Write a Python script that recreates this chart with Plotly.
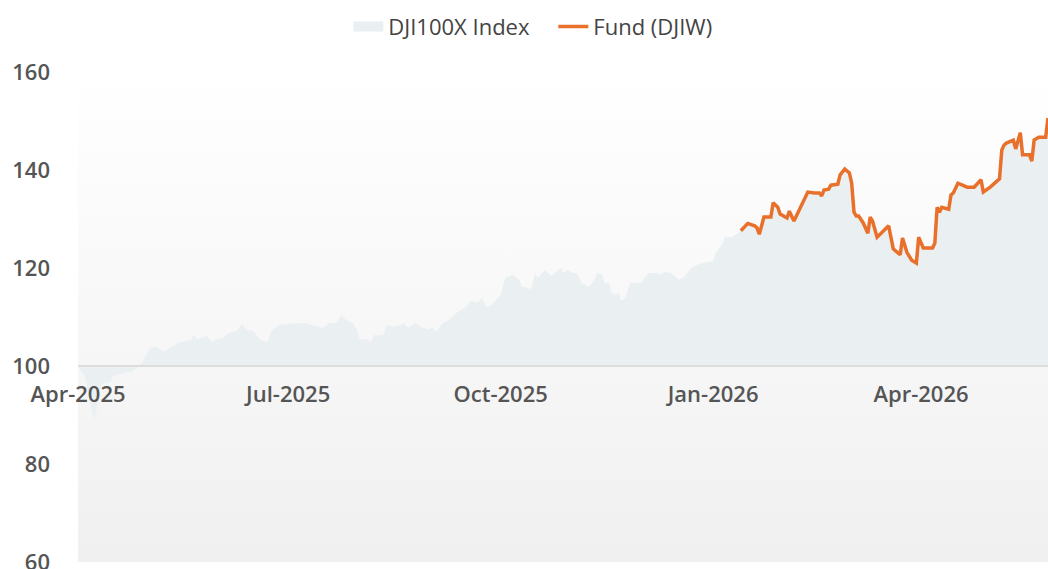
import plotly.graph_objects as go

# ---------------- data ----------------
index_dates = [
    "2025-04-01", "2025-04-04", "2025-04-06", "2025-04-08", "2025-04-09", "2025-04-10",
    "2025-04-12", "2025-04-15", "2025-04-16", "2025-04-21", "2025-04-24", "2025-04-27",
    "2025-04-29", "2025-05-02", "2025-05-05", "2025-05-08", "2025-05-11", "2025-05-15",
    "2025-05-20", "2025-05-21", "2025-05-23", "2025-05-27", "2025-05-29", "2025-05-31",
    "2025-06-03", "2025-06-05", "2025-06-09", "2025-06-11", "2025-06-13", "2025-06-16",
    "2025-06-19", "2025-06-22", "2025-06-24", "2025-06-27", "2025-07-02", "2025-07-06",
    "2025-07-09", "2025-07-12", "2025-07-16", "2025-07-19", "2025-07-22", "2025-07-24",
    "2025-07-26", "2025-07-29", "2025-07-31", "2025-08-01", "2025-08-04", "2025-08-06",
    "2025-08-07", "2025-08-11", "2025-08-13", "2025-08-15", "2025-08-18", "2025-08-20",
    "2025-08-22", "2025-08-25", "2025-08-28", "2025-08-31", "2025-09-01", "2025-09-03",
    "2025-09-06", "2025-09-08", "2025-09-10", "2025-09-13", "2025-09-16", "2025-09-18",
    "2025-09-21", "2025-09-23", "2025-09-25", "2025-09-27", "2025-10-01", "2025-10-03",
    "2025-10-06", "2025-10-09", "2025-10-10", "2025-10-13", "2025-10-14", "2025-10-16",
    "2025-10-17", "2025-10-20", "2025-10-23", "2025-10-27", "2025-10-28", "2025-10-30",
    "2025-11-01", "2025-11-03", "2025-11-05", "2025-11-07", "2025-11-08", "2025-11-10",
    "2025-11-12", "2025-11-14", "2025-11-15", "2025-11-17", "2025-11-18", "2025-11-20",
    "2025-11-21", "2025-11-22", "2025-11-24", "2025-11-26", "2025-12-01", "2025-12-04",
    "2025-12-08", "2025-12-09", "2025-12-11", "2025-12-14", "2025-12-17", "2025-12-19",
    "2025-12-23", "2025-12-27", "2026-01-01", "2026-01-02", "2026-01-04", "2026-01-05",
    "2026-01-06", "2026-01-09", "2026-01-12",
    "2026-01-13", "2026-01-16", "2026-01-19", "2026-01-20", "2026-01-21", "2026-01-23",
    "2026-01-26", "2026-01-27", "2026-01-29", "2026-01-30", "2026-02-02", "2026-02-03",
    "2026-02-05", "2026-02-08", "2026-02-11", "2026-02-14", "2026-02-16", "2026-02-17",
    "2026-02-18", "2026-02-20", "2026-02-21", "2026-02-24", "2026-02-25", "2026-02-27",
    "2026-03-01", "2026-03-02", "2026-03-03", "2026-03-04", "2026-03-05", "2026-03-07",
    "2026-03-09", "2026-03-10", "2026-03-11", "2026-03-13", "2026-03-18", "2026-03-20",
    "2026-03-22", "2026-03-23", "2026-03-24", "2026-03-26", "2026-03-28", "2026-03-30",
    "2026-03-31", "2026-04-02", "2026-04-06", "2026-04-07", "2026-04-08", "2026-04-09",
    "2026-04-10", "2026-04-13", "2026-04-14", "2026-04-15", "2026-04-17", "2026-04-21",
    "2026-04-24", "2026-04-27", "2026-04-28", "2026-05-01", "2026-05-05", "2026-05-06",
    "2026-05-07", "2026-05-08", "2026-05-11", "2026-05-12", "2026-05-14", "2026-05-15",
    "2026-05-18", "2026-05-19", "2026-05-20", "2026-05-22", "2026-05-25", "2026-05-26",
]
index_values = [
    100.0, 97.8, 93.0, 89.0, 91.0, 95.0,
    96.5, 96.7, 97.8, 98.6, 98.8, 99.8,
    100.8, 103.7, 104.0, 102.9, 103.7, 104.9,
    105.3, 106.3, 105.5, 106.1, 104.9, 105.5,
    105.7, 106.7, 107.3, 108.6, 107.5, 107.1,
    105.3, 104.9, 107.3, 108.4, 108.6, 108.7,
    108.8, 108.2, 107.8, 108.8, 108.8, 110.4,
    109.4, 108.8, 107.3, 105.3, 105.5, 104.9,
    106.3, 106.3, 108.4, 108.0, 108.2, 108.8,
    107.8, 108.8, 107.8, 107.5, 108.0, 107.0,
    108.8, 109.2, 110.0, 111.2, 112.0, 113.3,
    112.9, 113.9, 112.0, 112.4, 114.5, 118.0,
    118.6, 117.6, 116.3, 115.9, 115.5, 119.0,
    118.0, 119.6, 118.4, 120.0, 119.0, 119.6,
    119.0, 119.0, 116.9, 116.5, 116.1, 117.1,
    119.0, 118.6, 116.9, 116.9, 114.9, 114.5,
    115.1, 113.3, 113.9, 116.9, 117.1, 119.0,
    119.0, 118.6, 119.2, 119.0, 117.6, 118.0,
    120.2, 121.0, 121.4, 123.0, 124.3, 125.0,
    126.3, 126.3, 127.2,
    127.6, 129.1, 128.6, 128.2, 126.9, 130.4,
    130.4, 133.3, 132.4, 131.0, 130.2, 131.6,
    129.6, 132.4, 135.5, 135.3, 135.3, 134.7,
    135.9, 136.1, 136.9, 137.1, 139.0, 140.2,
    139.4, 137.3, 131.4, 130.6, 130.6, 129.2,
    127.1, 130.4, 129.6, 126.3, 128.6, 123.9,
    123.1, 122.7, 126.1, 123.1, 121.6, 121.0,
    126.3, 124.1, 124.1, 125.1, 132.4, 131.4,
    132.4, 132.0, 134.9, 135.3, 137.3, 136.5,
    136.5, 138.0, 135.5, 136.5, 138.2, 144.1,
    145.1, 145.5, 146.1, 144.3, 147.6, 143.1,
    143.1, 141.8, 146.1, 146.7, 146.7, 150.6,
]

fund_dates = [
    "2026-01-13", "2026-01-16", "2026-01-19", "2026-01-20", "2026-01-21", "2026-01-23",
    "2026-01-26", "2026-01-27", "2026-01-29", "2026-01-30", "2026-02-02", "2026-02-03",
    "2026-02-05", "2026-02-08", "2026-02-11", "2026-02-14", "2026-02-16", "2026-02-17",
    "2026-02-18", "2026-02-20", "2026-02-21", "2026-02-24", "2026-02-25", "2026-02-27",
    "2026-03-01", "2026-03-02", "2026-03-03", "2026-03-04", "2026-03-05", "2026-03-07",
    "2026-03-09", "2026-03-10", "2026-03-11", "2026-03-13", "2026-03-18", "2026-03-20",
    "2026-03-22", "2026-03-23", "2026-03-24", "2026-03-26", "2026-03-28", "2026-03-30",
    "2026-03-31", "2026-04-02", "2026-04-06", "2026-04-07", "2026-04-08", "2026-04-09",
    "2026-04-10", "2026-04-13", "2026-04-14", "2026-04-15", "2026-04-17", "2026-04-21",
    "2026-04-24", "2026-04-27", "2026-04-28", "2026-05-01", "2026-05-05", "2026-05-06",
    "2026-05-07", "2026-05-08", "2026-05-11", "2026-05-12", "2026-05-14", "2026-05-15",
    "2026-05-18", "2026-05-19", "2026-05-20", "2026-05-22", "2026-05-25", "2026-05-26",
]
fund_values = [
    127.6, 129.1, 128.6, 128.2, 126.9, 130.4,
    130.4, 133.3, 132.4, 131.0, 130.2, 131.6,
    129.6, 132.4, 135.5, 135.3, 135.3, 134.7,
    135.9, 136.1, 136.9, 137.1, 139.0, 140.2,
    139.4, 137.3, 131.4, 130.6, 130.6, 129.2,
    127.1, 130.4, 129.6, 126.3, 128.6, 123.9,
    123.1, 122.7, 126.1, 123.1, 121.6, 121.0,
    126.3, 124.1, 124.1, 125.1, 132.4, 131.4,
    132.4, 132.0, 134.9, 135.3, 137.3, 136.5,
    136.5, 138.0, 135.5, 136.5, 138.2, 144.1,
    145.1, 145.5, 146.1, 144.3, 147.6, 143.1,
    143.1, 141.8, 146.1, 146.7, 146.7, 150.6,
]

base_value = 100
x_start = "2025-04-01"
x_end = "2026-05-26"
y_ticks = [60, 80, 100, 120, 140, 160]

# ---------------- styles ----------------
INDEX_FILL = "#eaeff2"
FUND_COLOR = "#e8702a"
TICK_COLOR = "#555555"
FONT = "Open Sans, Noto Sans, sans-serif"

fig = go.Figure()

# plot-area background gradient (white at top -> light grey at bottom)
fig.add_trace(go.Scatter(
    x=[x_start, x_end], y=[y_ticks[-1], y_ticks[-1]],
    mode="lines", line=dict(width=0), fill="tozeroy",
    fillgradient=dict(type="vertical", start=y_ticks[0], stop=y_ticks[-1],
                      colorscale=[[0, "#f0f0f0"], [1, "#ffffff"]]),
    showlegend=False, hoverinfo="skip",
))

# baseline at 100 for the index area
fig.add_trace(go.Scatter(
    x=index_dates, y=[base_value] * len(index_dates),
    mode="lines", line=dict(width=0), showlegend=False, hoverinfo="skip",
))

fig.add_trace(go.Scatter(
    x=index_dates, y=index_values, name="DJI100X Index",
    mode="lines", line=dict(width=0, color=INDEX_FILL),
    fill="tonexty", fillcolor=INDEX_FILL, showlegend=False,
))

# legend swatch for the index area (block swatch)
fig.add_trace(go.Scatter(
    x=[None], y=[None], name="DJI100X Index",
    mode="lines", line=dict(width=16, color=INDEX_FILL),
))

fig.add_trace(go.Scatter(
    x=fund_dates, y=fund_values, name="Fund (DJIW)",
    mode="lines", line=dict(width=3.5, color=FUND_COLOR),
))

fig.update_layout(
    width=1048, height=569,
    margin=dict(l=78, r=0, t=72, b=7, autoexpand=False),
    paper_bgcolor="white", plot_bgcolor="white",
    font=dict(family=FONT, color="#444444", size=18),
    legend=dict(orientation="h", xref="container", yref="container",
                x=0.528, y=0.953, xanchor="center", yanchor="middle",
                font=dict(size=22, color="#444444"),
                entrywidth=160, entrywidthmode="pixels",
                traceorder="normal"),
    xaxis=dict(
        type="date", range=[x_start, x_end], automargin=False,
        tick0=x_start, dtick="M3", tickformat="%b-%Y",
        showgrid=True, gridcolor="#eeeeee", gridwidth=1,
        showline=True, linecolor="#dddddd", linewidth=2,
        anchor="free", position=(base_value - y_ticks[0]) / (y_ticks[-1] - y_ticks[0]),
        ticks="", ticklabelstandoff=9,
        tickfont=dict(size=22, color=TICK_COLOR, weight=600),
        zeroline=False,
    ),
    yaxis=dict(
        range=[y_ticks[0], y_ticks[-1]], tickvals=y_ticks, automargin=False,
        showgrid=False, zeroline=False, showline=False,
        ticks="", ticklabelstandoff=27, ticklabeloverflow="allow",
        tickfont=dict(size=22, color=TICK_COLOR, weight=600),
    ),
    hovermode=False,
)

fig.write_html("out.html", config={"displayModeBar": False},
               post_script="document.body.style.margin='0';")
